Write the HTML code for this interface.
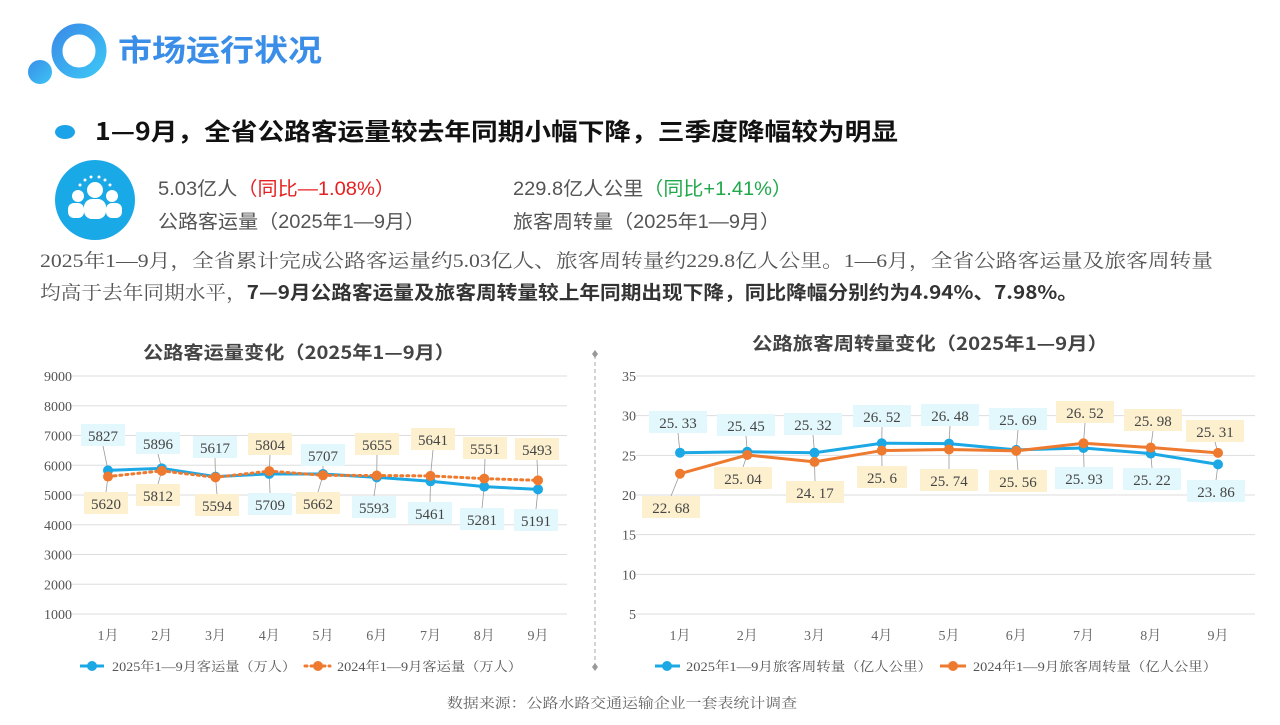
<!DOCTYPE html>
<html><head><meta charset="utf-8"><style>
body{margin:0;width:1280px;height:720px;background:#fff;overflow:hidden;font-family:"Liberation Sans","Noto Sans CJK SC",sans-serif;}
</style></head><body>
<svg id="s" width="1280" height="720" xmlns="http://www.w3.org/2000/svg" font-family="Liberation Sans, Noto Sans CJK SC, sans-serif">
<defs>
<linearGradient id="g1" x1="0" y1="0" x2="1" y2="1"><stop offset="0" stop-color="#3a8ee8"/><stop offset="1" stop-color="#3cc4f5"/></linearGradient>
</defs>
<circle cx="40" cy="72" r="12" fill="url(#g1)"/>
<circle cx="79" cy="51" r="22" fill="none" stroke="url(#g1)" stroke-width="11"/>
<text x="118" y="61" font-size="30" font-weight="bold" fill="#3a8ee8" font-family="Noto Sans CJK SC, sans-serif" textLength="204" lengthAdjust="spacingAndGlyphs">市场运行状况</text>
<ellipse cx="65" cy="132" rx="10" ry="7" fill="#1aa3e8"/>
<text x="95" y="140" font-size="24" font-weight="bold" fill="#111" font-family="Noto Sans CJK SC, sans-serif" textLength="803" lengthAdjust="spacingAndGlyphs">1—9月，全省公路客运量较去年同期小幅下降，三季度降幅较为明显</text>
<circle cx="95" cy="200" r="40" fill="#19a9e6"/>
<g fill="#fff">
<circle cx="95" cy="190" r="8"/><rect x="84" y="199" width="22" height="20" rx="8"/>
<circle cx="78" cy="196" r="6"/><rect x="68" y="203" width="16" height="15" rx="6"/>
<circle cx="112" cy="196" r="6"/><rect x="106" y="203" width="16" height="15" rx="6"/>
<circle cx="85" cy="180" r="1.5"/><circle cx="91" cy="177" r="1.5"/><circle cx="99" cy="177" r="1.5"/><circle cx="105" cy="180" r="1.5"/><circle cx="80" cy="185" r="1.5"/><circle cx="110" cy="185" r="1.5"/>
</g>
<g font-size="19" fill="#555">
<text x="158" y="195" textLength="237" lengthAdjust="spacingAndGlyphs">5.03亿人<tspan fill="#e52020">（同比—1.08%）</tspan></text>
<text x="158" y="228" textLength="267" lengthAdjust="spacingAndGlyphs">公路客运量（2025年1—9月）</text>
<text x="513" y="195" textLength="279" lengthAdjust="spacingAndGlyphs">229.8亿人公里<tspan fill="#1fa84a">（同比+1.41%）</tspan></text>
<text x="513" y="228" textLength="267" lengthAdjust="spacingAndGlyphs">旅客周转量（2025年1—9月）</text>
</g>
<g font-size="19" fill="#555" font-family="Liberation Serif, Noto Serif CJK SC, serif">
<text x="40" y="267" textLength="1173" lengthAdjust="spacingAndGlyphs">2025年1—9月，全省累计完成公路客运量约5.03亿人、旅客周转量约229.8亿人公里。1—6月，全省公路客运量及旅客周转量</text>
<text x="40" y="299" textLength="1038" lengthAdjust="spacingAndGlyphs">均高于去年同期水平，<tspan font-weight="bold" fill="#333" font-family="Noto Sans CJK SC, sans-serif">7—9月公路客运量及旅客周转量较上年同期出现下降，同比降幅分别约为4.94%、7.98%。</tspan></text>
</g>
<line x1="595" y1="355" x2="595" y2="667" stroke="#aaa" stroke-dasharray="4,3"/>
<path d="M595 350l3 4-3 4-3-4z M595 663l3 4-3 4-3-4z" fill="#999"/>
<g font-size="18" font-weight="bold" fill="#444" font-family="Noto Sans CJK SC, sans-serif">
<text x="143" y="359" textLength="312" lengthAdjust="spacingAndGlyphs">公路客运量变化（2025年1—9月）</text>
<text x="752" y="350" textLength="356" lengthAdjust="spacingAndGlyphs">公路旅客周转量变化（2025年1—9月）</text>
</g>
<g id="c"></g>
<text x="447" y="708" font-size="14" fill="#666" font-family="Liberation Serif, Noto Serif CJK SC, serif" textLength="350" lengthAdjust="spacingAndGlyphs">数据来源：公路水路交通运输企业一套表统计调查</text>
</svg>
<script>
var g=document.getElementById('c'),h='';
function L(x1,y1,x2,y2,st){h+='<line x1="'+x1+'" y1="'+y1+'" x2="'+x2+'" y2="'+y2+'" '+st+'/>';}
function T(x,y,t,st){h+='<text x="'+x+'" y="'+y+'" '+st+'>'+t+'</text>';}
var F='font-family="Liberation Serif, Noto Serif CJK SC, serif"';
for(var v=1000;v<=9000;v+=1000){var y=376+(9000-v)*0.02975;L(72,y,567,y,'stroke="#ddd"');T(72,y+5,v,'font-size="14" fill="#555" text-anchor="end" '+F);}
var xl=function(i){return 108+i*53.75},yl=function(v){return 376+(9000-v)*0.02975};
for(var i=0;i<9;i++)T(xl(i),640,(i+1)+'月','font-size="14" fill="#666" text-anchor="middle" '+F);
var a=[5827,5896,5617,5709,5707,5593,5461,5281,5191],b=[5620,5812,5594,5804,5662,5655,5641,5551,5493];
var la=[[103,436],[158,444],[215,448],[270,505],[323,456],[374,508],[430,514],[482,520],[536,521]];
var lb=[[106,504],[158,496],[217,506],[270,445],[318,504],[377,445],[433,440],[485,449],[537,450]];
function labels(vals,pos,px,py,bg){for(var i=0;i<9;i++){var x=pos[i][0],y=pos[i][1],t=String(vals[i]),w=t.length*9+8;var ey=y<py(vals[i])?y+10:y-12;L(x,ey,px(i),py(vals[i]),'stroke="#999" stroke-width="0.8"');h+='<rect x="'+(x-w/2)+'" y="'+(y-12)+'" width="'+w+'" height="22" fill="'+bg+'"/>';T(x,y+5,t,'font-size="15" fill="#444" text-anchor="middle" '+F);}}
labels(a,la,xl,yl,'#e3f8fc');labels(b,lb,xl,yl,'#fdf0cf');
function poly(vals,px,py,col,st){var p=vals.map(function(v,i){return px(i)+','+py(v)}).join(' ');h+='<polyline points="'+p+'" fill="none" stroke="'+col+'" '+st+'/>';vals.forEach(function(v,i){h+='<circle cx="'+px(i)+'" cy="'+py(v)+'" r="5" fill="'+col+'"/>';});}
poly(a,xl,yl,'#1ba8e4','stroke-width="3"');poly(b,xl,yl,'#ee7a30','stroke-width="3" stroke-dasharray="2,4" stroke-linecap="round"');
L(80,666,104,666,'stroke="#1ba8e4" stroke-width="3"');h+='<circle cx="92" cy="666" r="5" fill="#1ba8e4"/>';
T(112,671,'2025年1—9月客运量（万人）','font-size="13" fill="#555" textLength="184" lengthAdjust="spacingAndGlyphs" '+F);
L(305,666,330,666,'stroke="#ee7a30" stroke-width="3" stroke-dasharray="2,4" stroke-linecap="round"');h+='<circle cx="318" cy="666" r="5" fill="#ee7a30"/>';
T(337,671,'2024年1—9月客运量（万人）','font-size="13" fill="#555" textLength="185" lengthAdjust="spacingAndGlyphs" '+F);
for(var v=5;v<=35;v+=5){var y=376+(35-v)*7.933;L(636,y,1255,y,'stroke="#ddd"');T(636,y+5,v,'font-size="14" fill="#555" text-anchor="end" '+F);}
var xr=function(i){return 680+i*67.25},yr=function(v){return 376+(35-v)*7.933};
for(var i=0;i<9;i++)T(xr(i),640,(i+1)+'月','font-size="14" fill="#666" text-anchor="middle" '+F);
var c=[25.33,25.45,25.32,26.52,26.48,25.69,25.93,25.22,23.86],d=[22.68,25.04,24.17,25.6,25.74,25.56,26.52,25.98,25.31];
var cl=[[678,423],[746,426],[813,425],[882,417],[950,416],[1018,420],[1084,479],[1152,480],[1216,492]];
var dl=[[671,508],[743,479],[815,493],[882,478],[949,481],[1018,482],[1085,413],[1153,421],[1215,432]];
function lab2(vals,pos,bg){for(var i=0;i<9;i++){var x=pos[i][0],y=pos[i][1],t=String(vals[i]).replace('.','. '),w=t.length*8+10;var ey=y<yr(vals[i])?y+10:y-12;L(x,ey,xr(i),yr(vals[i]),'stroke="#999" stroke-width="0.8"');h+='<rect x="'+(x-w/2)+'" y="'+(y-12)+'" width="'+w+'" height="22" fill="'+bg+'"/>';T(x,y+5,t,'font-size="15" fill="#444" text-anchor="middle" '+F);}}
lab2(c,cl,'#e3f8fc');lab2(d,dl,'#fdf0cf');
poly(c,xr,yr,'#1ba8e4','stroke-width="3"');poly(d,xr,yr,'#ee7a30','stroke-width="3"');
L(655,666,680,666,'stroke="#1ba8e4" stroke-width="3"');h+='<circle cx="667" cy="666" r="5" fill="#1ba8e4"/>';
T(686,671,'2025年1—9月旅客周转量（亿人公里）','font-size="13" fill="#555" textLength="246" lengthAdjust="spacingAndGlyphs" '+F);
L(940,666,966,666,'stroke="#ee7a30" stroke-width="3"');h+='<circle cx="953" cy="666" r="5" fill="#ee7a30"/>';
T(973,671,'2024年1—9月旅客周转量（亿人公里）','font-size="13" fill="#555" textLength="244" lengthAdjust="spacingAndGlyphs" '+F);
g.innerHTML=h;
</script>
</body></html>
